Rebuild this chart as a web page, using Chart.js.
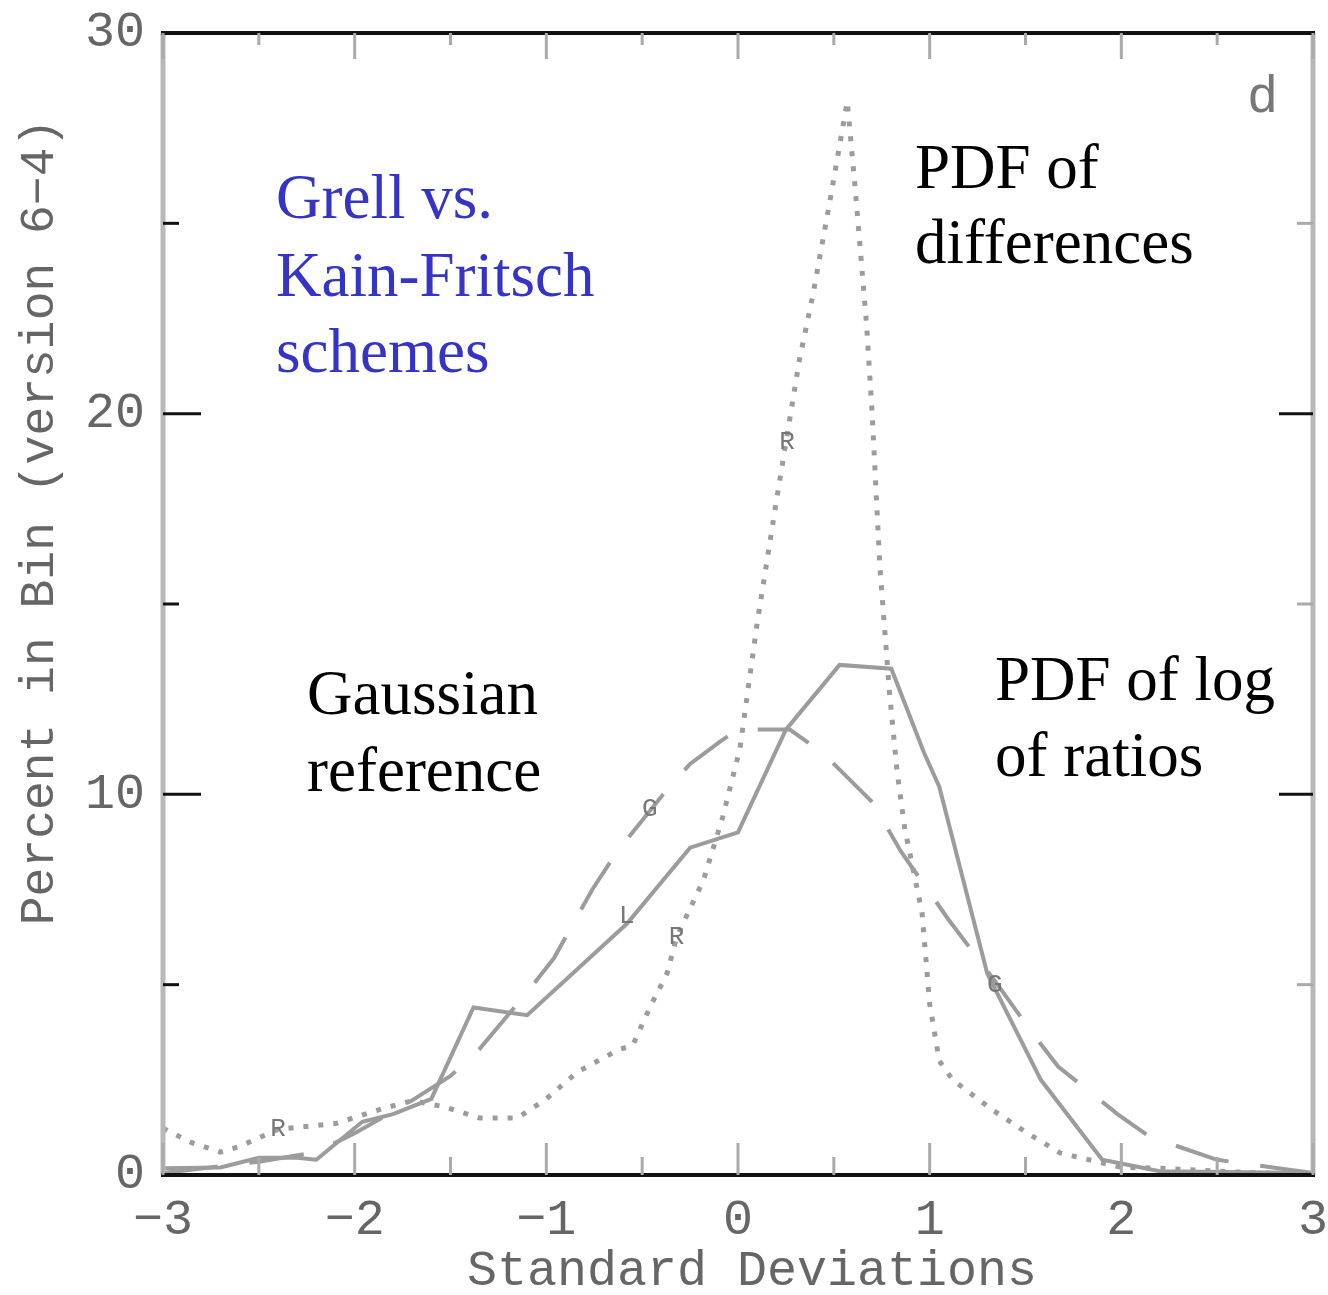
<!DOCTYPE html>
<html>
<head>
<meta charset="utf-8">
<script src="https://cdn.jsdelivr.net/npm/chart.js@4.4.0/dist/chart.umd.min.js"></script>
<style>
html, body { margin: 0; padding: 0; background: #fff; }
#grafico { display: block; }
</style>
</head>
<body>
<canvas id="grafico" width="1328" height="1295"></canvas>
<script>
// Gaussian reference (long dashes, "G")
var xGauss = [-3, -2.5, -2.2, -2.0, -1.75, -1.5, -1.35, -1.1, -0.96, -0.76, -0.63, -0.39, -0.25, -0.09, 0.0, 0.27, 0.44, 0.7, 0.85, 1.1, 1.34, 1.54, 1.67, 1.98, 2.15, 2.5, 3];
var yGauss = [0.05, 0.35, 0.6, 1.1, 1.8, 2.6, 3.3, 4.8, 5.7, 7.5, 8.5, 10.0, 10.8, 11.4, 11.7, 11.7, 11.1, 9.8, 8.5, 6.7, 5.1, 3.7, 2.85, 1.6, 1.0, 0.4, 0.05];

// PDF of log of ratios (solid, "L")
var xLog = [-3, -2.7, -2.5, -2.3, -2.2, -1.96, -1.8, -1.6, -1.38, -1.1, -0.58, -0.25, 0.0, 0.25, 0.53, 0.8, 0.97, 1.05, 1.3, 1.58, 1.9, 2.2, 3];
var yLog = [0.18, 0.2, 0.45, 0.45, 0.4, 1.4, 1.6, 2.0, 4.4, 4.2, 6.6, 8.6, 9.0, 11.7, 13.4, 13.3, 11.1, 10.2, 5.3, 2.5, 0.4, 0.1, 0.05];

// PDF of differences (dotted, "R")
var xDif = [-3, -2.85, -2.7, -2.6, -2.4, -2.1, -1.85, -1.7, -1.54, -1.35, -1.15, -1.0, -0.84, -0.62, -0.55, -0.46, -0.37, -0.32, -0.18, -0.08, 0.01, 0.1, 0.2, 0.32, 0.39, 0.48, 0.57, 0.61, 0.67, 0.7, 0.74, 0.79, 0.83, 0.87, 0.96, 1.0, 1.05, 1.12, 1.33, 1.51, 1.68, 2.0, 2.2, 2.5, 3];
var yDif = [1.23, 0.85, 0.6, 0.75, 1.2, 1.35, 1.75, 1.95, 1.8, 1.5, 1.5, 2.0, 2.7, 3.3, 3.4, 4.4, 5.3, 6.25, 7.75, 9.4, 11.2, 14.5, 17.7, 21.4, 23.1, 25.6, 28.2, 26.0, 22.4, 20.0, 16.0, 12.7, 10.6, 9.1, 6.9, 4.5, 3.0, 2.5, 1.7, 1.1, 0.58, 0.2, 0.18, 0.1, 0];

var xTicks = [-3, -2, -1, 0, 1, 2, 3];
var yTicks = [0, 10, 20, 30];

function puntos(xs, ys) {
    return xs.map(function (x, i) { return { x: x, y: ys[i] }; });
}

var GRIS = '#9c9c9c';

var marcas = {
    id: 'marcas',
    afterDraw: function (chart) {
        var ctx = chart.ctx, a = chart.chartArea;
        var sx = chart.scales.x, sy = chart.scales.y;
        function linea(x1, y1, x2, y2) {
            ctx.beginPath(); ctx.moveTo(x1, y1); ctx.lineTo(x2, y2); ctx.stroke();
        }
        ctx.save();
        // marco
        ctx.lineWidth = 5; ctx.strokeStyle = '#b8b8b8';
        linea(a.left, a.top, a.left, a.bottom);
        linea(a.right, a.top, a.right, a.bottom);
        ctx.lineWidth = 4; ctx.strokeStyle = '#111';
        linea(a.left - 2, a.top, a.right + 2, a.top);
        linea(a.left - 2, a.bottom, a.right + 2, a.bottom);

        // ticks en x (hacia adentro)
        ctx.lineWidth = 3; ctx.strokeStyle = '#aaa';
        for (var v = -3; v <= 3.001; v += 0.5) {
            var px = sx.getPixelForValue(v);
            var mayor = Math.abs(v - Math.round(v)) < 0.01;
            linea(px, a.bottom, px, a.bottom - (mayor ? 32 : 18));
            linea(px, a.top, px, a.top + (mayor ? 26 : 12));
        }
        // ticks en y
        for (var w = 5; w < 30; w += 5) {
            var py = sy.getPixelForValue(w);
            var may = (w % 10 === 0);
            ctx.strokeStyle = '#111';
            linea(a.left, py, a.left + (may ? 38 : 16), py);
            ctx.strokeStyle = may ? '#111' : '#aaa';
            linea(a.right, py, a.right - (may ? 34 : 16), py);
        }

        // letras sobre las curvas
        ctx.fillStyle = '#777';
        ctx.font = '26px "Liberation Mono"';
        ctx.textAlign = 'center'; ctx.textBaseline = 'middle';
        [['G', -0.46, 9.6], ['G', 1.34, 5.0], ['L', -0.58, 6.8], ['R', 0.256, 19.25], ['R', -0.32, 6.25], ['R', -2.4, 1.2]].forEach(function (m) {
            ctx.fillText(m[0], sx.getPixelForValue(m[1]), sy.getPixelForValue(m[2]));
        });

        // etiqueta del panel
        ctx.font = '52px "Liberation Mono"';
        ctx.fillStyle = '#777';
        ctx.textAlign = 'left'; ctx.textBaseline = 'alphabetic';
        ctx.fillText('d', 1247, 112);

        // titulos de ejes
        ctx.font = '50px "Liberation Mono"';
        ctx.fillStyle = '#666';
        ctx.textAlign = 'center'; ctx.textBaseline = 'middle';
        ctx.fillText('Standard Deviations', 752, 1272);
        ctx.save();
        ctx.font = '48px "Liberation Mono"';
        ctx.translate(40, 522);
        ctx.rotate(-Math.PI / 2);
        ctx.fillText('Percent in Bin (version 6\u22124)', 0, 0);
        ctx.restore();

        // textos
        ctx.font = '63px "Liberation Serif"';
        ctx.textAlign = 'left'; ctx.textBaseline = 'alphabetic';
        ctx.fillStyle = '#3434c8';
        ctx.fillText('Grell vs.', 276, 218);
        ctx.fillText('Kain-Fritsch', 276, 296);
        ctx.fillText('schemes', 276, 372);
        ctx.fillStyle = '#000';
        ctx.fillText('PDF of', 915, 188);
        ctx.fillText('differences', 915, 263);
        ctx.fillText('Gaussian', 307, 714);
        ctx.fillText('reference', 307, 791);
        ctx.fillText('PDF of log', 995, 700);
        ctx.fillText('of ratios', 995, 776);
        ctx.restore();
    }
};

new Chart(document.getElementById('grafico'), {
    type: 'scatter',
    data: {
        datasets: [{
            label: 'Gaussian reference',
            data: puntos(xGauss, yGauss),
            showLine: true,
            borderColor: GRIS,
            borderWidth: 4,
            borderDash: [55, 32],
            pointRadius: 0,
            tension: 0
        }, {
            label: 'PDF of log of ratios',
            data: puntos(xLog, yLog),
            showLine: true,
            borderColor: GRIS,
            borderWidth: 4,
            pointRadius: 0,
            tension: 0
        }, {
            label: 'PDF of differences',
            data: puntos(xDif, yDif),
            showLine: true,
            borderColor: GRIS,
            borderWidth: 5,
            borderDash: [5, 10],
            pointRadius: 0,
            tension: 0
        }]
    },
    options: {
        responsive: false,
        animation: false,
        devicePixelRatio: 1,
        layout: { padding: { top: 33, right: 15, left: 0, bottom: 0 } },
        plugins: { legend: { display: false }, tooltip: { enabled: false } },
        scales: {
            x: {
                type: 'linear',
                min: -3, max: 3,
                afterFit: function (s) { s.height = 120; s.paddingLeft = 0; s.paddingRight = 0; },
                afterBuildTicks: function (s) { s.ticks = xTicks.map(function (v) { return { value: v }; }); },
                grid: { display: false, drawTicks: false },
                border: { display: false },
                ticks: {
                    padding: 16,
                    color: '#666',
                    font: { family: 'Liberation Mono', size: 50 },
                    callback: function (v) { return String(v).replace('-', '\u2212'); }
                }
            },
            y: {
                type: 'linear',
                min: 0, max: 30,
                afterFit: function (s) { s.width = 163; s.paddingTop = 0; s.paddingBottom = 0; },
                afterBuildTicks: function (s) { s.ticks = yTicks.map(function (v) { return { value: v }; }); },
                grid: { display: false, drawTicks: false },
                border: { display: false },
                ticks: {
                    padding: 18,
                    color: '#666',
                    font: { family: 'Liberation Mono', size: 50 }
                }
            }
        }
    },
    plugins: [marcas]
});
</script>
</body>
</html>
